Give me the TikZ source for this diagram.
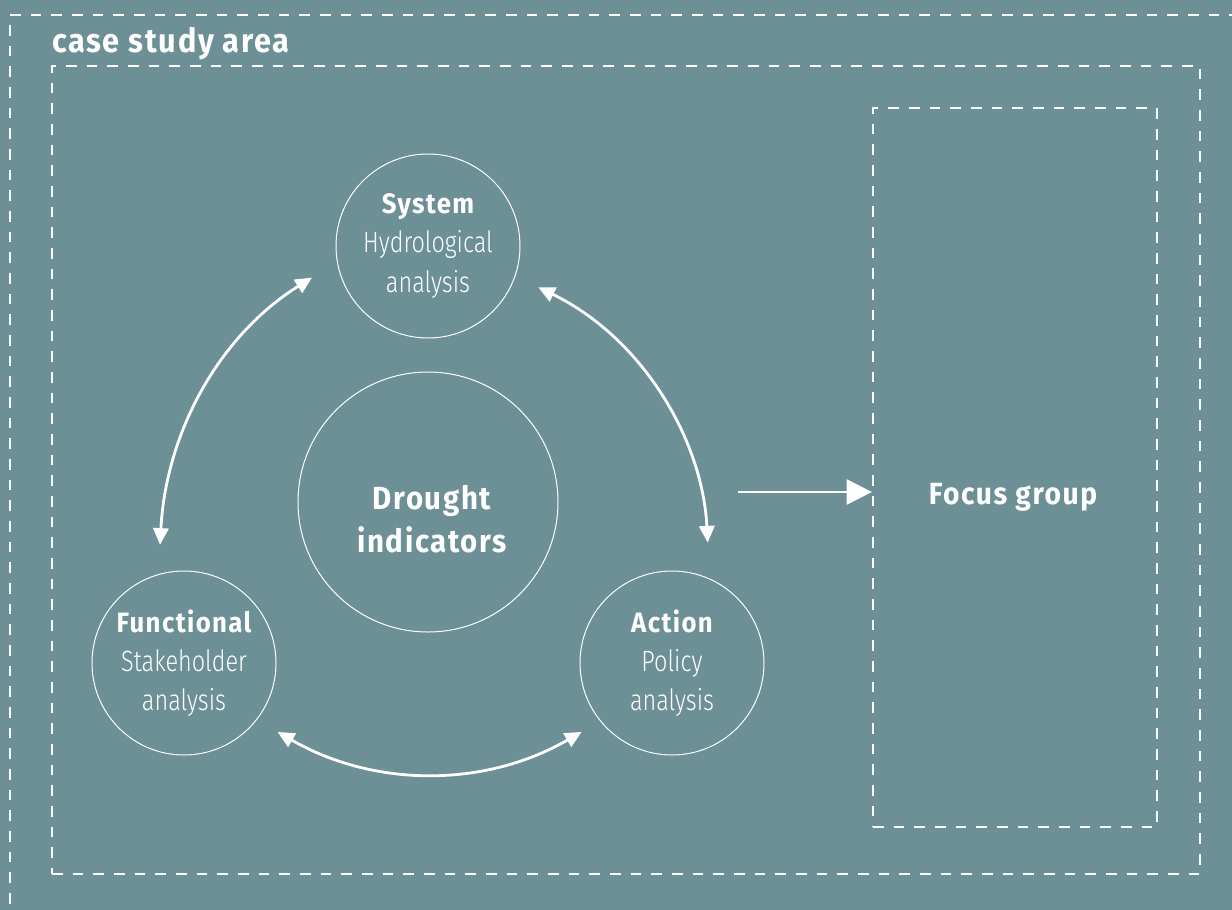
\documentclass[tikz,border=0pt]{standalone}
\usepackage{fontspec}
\setmainfont{Fira Sans}[FakeStretch=0.8,UprightFont=* Light,BoldFont=* Bold]
\newfontfamily\kopf{Fira Sans}[FakeStretch=0.92,LetterSpace=5]
\usetikzlibrary{arrows.meta}
\definecolor{hintergrund}{RGB}{108,144,149}
\tikzset{
  rahmen/.style={draw=white,line width=1.7pt,dash pattern=on 8pt off 7.5pt},
  kreis/.style={circle,draw=white,line width=0.75pt,minimum size=138pt,inner sep=0pt,
    align=center,text=white,font=\fontsize{22}{29.5}\selectfont},
  titel/.style={text=white,font=\kopf\bfseries\fontsize{21}{28.5}\selectfont},
  pfeil/.style={white,line width=2.1pt,{Triangle[length=12.5pt,width=11.5pt]}-{Triangle[length=12.5pt,width=11.5pt]}},
}
\begin{document}
\begin{tikzpicture}[x=0.75pt,y=-0.75pt]
\useasboundingbox (0,0) rectangle (1232,910);
\fill[hintergrund] (0,0) rectangle (1232,910);

% Rahmen
\draw[rahmen] (1240,15) -- (10,15) -- (10,920);
\node[titel,font=\kopf\bfseries\fontsize{25}{30}\selectfont,anchor=base west,inner sep=0pt] (area) at (52,52) {case study area};
\node[rahmen,rectangle,minimum width=861pt,minimum height=606pt,inner sep=0pt] (study) at (626,470) {};
\node[rahmen,rectangle,minimum width=213pt,minimum height=539pt,inner sep=0pt] (foc) at (1015,467.5) {};
\node[titel,font=\kopf\bfseries\fontsize{23}{28}\selectfont] (focus) at (1013,497) {Focus group};

% Knoten
\node[kreis] (sys) at (428,246) {{\kopf\bfseries\fontsize{21}{28.5}\selectfont System}\\Hydrological\\analysis};
\node[kreis] (fun) at (184,663) {{\kopf\bfseries\fontsize{21}{28.5}\selectfont Functional}\\Stakeholder\\analysis};
\node[kreis] (act) at (672,663) {{\kopf\bfseries\fontsize{21}{28.5}\selectfont Action}\\Policy\\analysis};
\node[kreis,minimum size=195pt] (dro) at (428,502) {};
\node[titel,align=center,font=\kopf\bfseries\fontsize{24}{32}\selectfont] (drotext) at (432,519) {Drought\\indicators};

% Verbindungen
\draw[pfeil,shorten <=22pt,shorten >=22pt] (fun.106) to[out=87,in=212] (sys.190);
\draw[pfeil,shorten <=27pt,shorten >=19pt] (act.66) to[out=93,in=334] (sys.341);
\draw[pfeil,shorten <=18pt,shorten >=16pt] (fun.322) to[out=-30,in=210] (act.219);
\coordinate (src) at (738,492);
\draw[white,line width=1.6pt,-{Triangle[length=19pt,width=19pt]}] (src) -- (src -| foc.west);
\end{tikzpicture}
\end{document}
